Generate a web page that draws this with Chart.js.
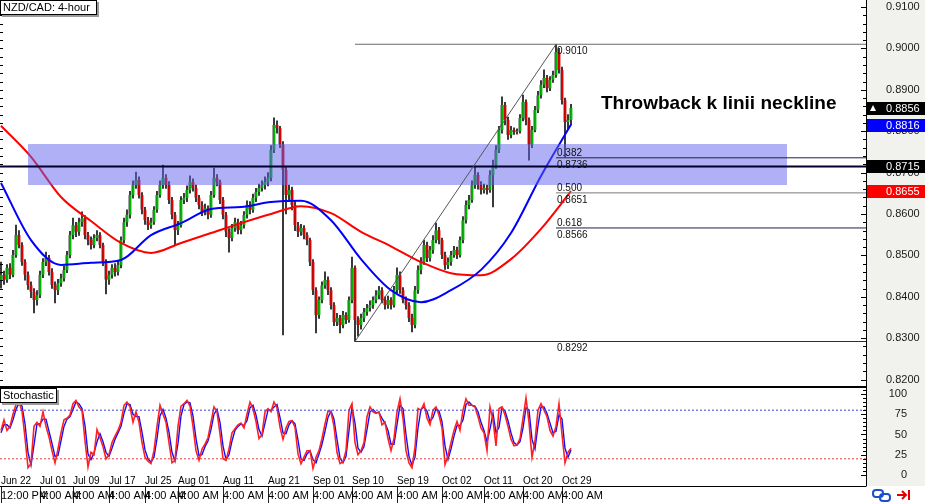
<!DOCTYPE html>
<html>
<head>
<meta charset="utf-8">
<script src="https://cdn.jsdelivr.net/npm/chart.js@4.4.0/dist/chart.umd.min.js"></script>
<style>
  html, body { margin: 0; padding: 0; background: #fff; }
  #wrap { position: relative; width: 925px; height: 503px; overflow: hidden; }
  #main { position: absolute; left: 0; top: 0; }
  #stoch { position: absolute; left: 0; top: 387px; }
</style>
</head>
<body>
<div id="wrap">
  <canvas id="main" width="925" height="387"></canvas>
  <canvas id="stoch" width="925" height="116"></canvas>
</div>
<script>
// NZD/CAD 4-hour bars (open = previous close)
const firstOpen = 0.8440;
const closes = [
  0.8453, 0.8441, 0.8470, 0.8453, 0.8501, 0.8549, 0.8525, 0.8484, 0.8453, 0.8428,
  0.8412, 0.8392, 0.8404, 0.8453, 0.8484, 0.8494, 0.8460, 0.8428, 0.8416, 0.8433,
  0.8445, 0.8465, 0.8501, 0.8549, 0.8573, 0.8557, 0.8580, 0.8590, 0.8549, 0.8537,
  0.8525, 0.8542, 0.8549, 0.8525, 0.8484, 0.8441, 0.8453, 0.8470, 0.8460, 0.8477,
  0.8537, 0.8580, 0.8598, 0.8646, 0.8670, 0.8682, 0.8646, 0.8610, 0.8585, 0.8573,
  0.8580, 0.8610, 0.8646, 0.8670, 0.8687, 0.8670, 0.8634, 0.8598, 0.8561, 0.8573,
  0.8634, 0.8639, 0.8658, 0.8677, 0.8663, 0.8639, 0.8622, 0.8605, 0.8614, 0.8598,
  0.8646, 0.8687, 0.8677, 0.8634, 0.8598, 0.8557, 0.8542, 0.8566, 0.8580, 0.8561,
  0.8573, 0.8598, 0.8622, 0.8610, 0.8639, 0.8653, 0.8663, 0.8670, 0.8677, 0.8687,
  0.8755, 0.8815, 0.8808, 0.8767, 0.8706, 0.8646, 0.8658, 0.8622, 0.8573, 0.8557,
  0.8566, 0.8549, 0.8537, 0.8484, 0.8416, 0.8356, 0.8392, 0.8428, 0.8441, 0.8416,
  0.8380, 0.8339, 0.8349, 0.8332, 0.8356, 0.8344, 0.8392, 0.8470, 0.8344, 0.8332,
  0.8349, 0.8363, 0.8373, 0.8380, 0.8392, 0.8404, 0.8416, 0.8392, 0.8380, 0.8392,
  0.8380, 0.8416, 0.8453, 0.8416, 0.8392, 0.8380, 0.8349, 0.8332, 0.8416, 0.8465,
  0.8484, 0.8525, 0.8494, 0.8513, 0.8537, 0.8561, 0.8537, 0.8501, 0.8477, 0.8484,
  0.8501, 0.8513, 0.8501, 0.8537, 0.8585, 0.8622, 0.8634, 0.8670, 0.8694, 0.8670,
  0.8658, 0.8663, 0.8658, 0.8694, 0.8718, 0.8755, 0.8803, 0.8863, 0.8827, 0.8791,
  0.8803, 0.8798, 0.8800, 0.8832, 0.8871, 0.8827, 0.8767, 0.8803, 0.8851, 0.8887,
  0.8912, 0.8929, 0.8904, 0.8924, 0.8936, 0.8991, 0.8948, 0.8875, 0.8822, 0.8827, 0.8856
];
const highs = [
  0.8484, 0.8462, 0.8478, 0.8480, 0.8512, 0.8573, 0.8560, 0.8531, 0.8490, 0.8460,
  0.8436, 0.8420, 0.8415, 0.8462, 0.8492, 0.8508, 0.8500, 0.8468, 0.8436, 0.8442,
  0.8455, 0.8474, 0.8510, 0.8558, 0.8590, 0.8580, 0.8590, 0.8605, 0.8596, 0.8556,
  0.8545, 0.8550, 0.8560, 0.8555, 0.8530, 0.8490, 0.8462, 0.8478, 0.8480, 0.8486,
  0.8545, 0.8590, 0.8610, 0.8655, 0.8680, 0.8701, 0.8690, 0.8652, 0.8616, 0.8592,
  0.8590, 0.8618, 0.8655, 0.8680, 0.8718, 0.8695, 0.8678, 0.8640, 0.8604, 0.8582,
  0.8642, 0.8650, 0.8668, 0.8692, 0.8685, 0.8670, 0.8645, 0.8630, 0.8624, 0.8620,
  0.8655, 0.8711, 0.8695, 0.8682, 0.8640, 0.8604, 0.8565, 0.8575, 0.8590, 0.8588,
  0.8582, 0.8606, 0.8632, 0.8630, 0.8648, 0.8662, 0.8672, 0.8680, 0.8690, 0.8700,
  0.8765, 0.8832, 0.8825, 0.8812, 0.8775, 0.8715, 0.8670, 0.8665, 0.8630, 0.8580,
  0.8575, 0.8572, 0.8555, 0.8542, 0.8490, 0.8422, 0.8400, 0.8436, 0.8460, 0.8448,
  0.8422, 0.8386, 0.8360, 0.8355, 0.8365, 0.8362, 0.8400, 0.8496, 0.8475, 0.8352,
  0.8358, 0.8372, 0.8382, 0.8390, 0.8400, 0.8415, 0.8425, 0.8422, 0.8400, 0.8402,
  0.8398, 0.8425, 0.8470, 0.8460, 0.8422, 0.8400, 0.8386, 0.8358, 0.8425, 0.8475,
  0.8495, 0.8537, 0.8532, 0.8522, 0.8548, 0.8578, 0.8568, 0.8542, 0.8508, 0.8494,
  0.8510, 0.8522, 0.8520, 0.8545, 0.8594, 0.8632, 0.8645, 0.8680, 0.8714, 0.8700,
  0.8678, 0.8672, 0.8670, 0.8705, 0.8730, 0.8765, 0.8812, 0.8883, 0.8870, 0.8834,
  0.8812, 0.8808, 0.8806, 0.8840, 0.8887, 0.8876, 0.8832, 0.8812, 0.8860, 0.8896,
  0.8922, 0.8948, 0.8935, 0.8932, 0.8945, 0.9010, 0.9000, 0.8955, 0.8880, 0.8840, 0.8865
];
const lows = [
  0.8421, 0.8430, 0.8435, 0.8444, 0.8448, 0.8495, 0.8518, 0.8476, 0.8440, 0.8418,
  0.8398, 0.8361, 0.8380, 0.8398, 0.8446, 0.8475, 0.8452, 0.8420, 0.8385, 0.8405,
  0.8425, 0.8438, 0.8458, 0.8494, 0.8540, 0.8545, 0.8548, 0.8570, 0.8540, 0.8525,
  0.8515, 0.8518, 0.8535, 0.8518, 0.8475, 0.8407, 0.8430, 0.8445, 0.8450, 0.8452,
  0.8470, 0.8530, 0.8570, 0.8590, 0.8638, 0.8662, 0.8638, 0.8600, 0.8575, 0.8562,
  0.8565, 0.8575, 0.8604, 0.8640, 0.8662, 0.8662, 0.8625, 0.8588, 0.8525, 0.8550,
  0.8568, 0.8625, 0.8630, 0.8650, 0.8655, 0.8630, 0.8612, 0.8596, 0.8598, 0.8588,
  0.8592, 0.8640, 0.8668, 0.8625, 0.8588, 0.8545, 0.8508, 0.8535, 0.8558, 0.8552,
  0.8552, 0.8566, 0.8590, 0.8600, 0.8604, 0.8630, 0.8645, 0.8655, 0.8660, 0.8668,
  0.8680, 0.8748, 0.8795, 0.8760, 0.8308, 0.8600, 0.8630, 0.8610, 0.8560, 0.8545,
  0.8548, 0.8540, 0.8525, 0.8475, 0.8405, 0.8313, 0.8348, 0.8385, 0.8420, 0.8405,
  0.8370, 0.8330, 0.8330, 0.8313, 0.8325, 0.8335, 0.8338, 0.8385, 0.8292, 0.8305,
  0.8322, 0.8340, 0.8355, 0.8365, 0.8372, 0.8385, 0.8395, 0.8385, 0.8370, 0.8372,
  0.8370, 0.8375, 0.8410, 0.8408, 0.8385, 0.8370, 0.8340, 0.8315, 0.8325, 0.8408,
  0.8455, 0.8478, 0.8485, 0.8486, 0.8505, 0.8530, 0.8528, 0.8492, 0.8466, 0.8468,
  0.8476, 0.8495, 0.8492, 0.8496, 0.8530, 0.8578, 0.8612, 0.8628, 0.8662, 0.8660,
  0.8648, 0.8650, 0.8648, 0.8652, 0.8617, 0.8710, 0.8748, 0.8795, 0.8815, 0.8780,
  0.8784, 0.8792, 0.8793, 0.8795, 0.8825, 0.8815, 0.8730, 0.8760, 0.8798, 0.8845,
  0.8880, 0.8905, 0.8895, 0.8898, 0.8918, 0.8930, 0.8940, 0.8865, 0.8738, 0.8805, 0.8815
];

// moving averages, one reading every maStep bars
const maStep = 10;
const redMA = [0.8813, 0.8738, 0.8641, 0.8583, 0.8530, 0.8506, 0.8530, 0.8554, 0.8578, 0.8600,
               0.8619, 0.8602, 0.8557, 0.8522, 0.8484, 0.8457, 0.8452, 0.8491, 0.8564, 0.8655];
const blueMA = [0.8675, 0.8537, 0.8477, 0.8482, 0.8489, 0.8549, 0.8578, 0.8612, 0.8617, 0.8629,
                0.8632, 0.8585, 0.8491, 0.8416, 0.8387, 0.8416, 0.8465, 0.8554, 0.8692, 0.8816];

// stochastic %K (red) and %D (blue)
const stochK = [
  55, 68, 55, 60, 75, 87, 90, 79, 46, 9, 14, 60, 65, 60, 78, 60, 47, 30, 15, 32,
  52, 68, 70, 74, 88, 92, 84, 80, 42, 10, 28, 25, 56, 46, 35, 20, 25, 40, 48, 55,
  65, 86, 90, 84, 65, 78, 65, 40, 22, 17, 14, 30, 60, 86, 75, 65, 40, 15, 18, 60,
  85, 88, 92, 85, 60, 30, 18, 32, 38, 46, 65, 84, 78, 51, 20, 18, 32, 52, 57, 62,
  64, 58, 75, 90, 82, 66, 45, 50, 78, 82, 78, 90, 83, 59, 44, 58, 66, 67, 59, 26,
  14, 22, 30, 30, 8, 22, 30, 45, 63, 79, 78, 60, 28, 14, 16, 30, 80, 88, 40, 25,
  30, 40, 72, 84, 78, 76, 78, 62, 65, 45, 30, 45, 78, 94, 70, 30, 15, 9, 34, 82,
  80, 88, 70, 62, 80, 84, 74, 58, 13, 24, 40, 55, 66, 55, 80, 94, 86, 86, 84, 72,
  58, 52, 30, 84, 68, 36, 82, 84, 74, 60, 44, 36, 37, 45, 70, 95, 65, 22, 42, 80,
  88, 80, 72, 55, 48, 60, 88, 50, 15, 28, 33
];
const stochD = [
  52, 62, 62, 58, 68, 81, 89, 85, 63, 28, 12, 37, 63, 63, 69, 69, 54, 39, 23, 24,
  42, 60, 69, 72, 81, 90, 88, 82, 61, 26, 19, 27, 41, 51, 41, 28, 23, 33, 44, 52,
  60, 76, 88, 87, 75, 72, 72, 53, 31, 20, 16, 22, 45, 73, 81, 70, 53, 28, 17, 39,
  73, 87, 90, 89, 73, 45, 24, 25, 35, 42, 56, 75, 81, 65, 36, 19, 25, 42, 55, 60,
  63, 61, 67, 83, 86, 74, 56, 48, 64, 80, 80, 84, 87, 71, 52, 51, 62, 67, 63, 43,
  20, 18, 26, 30, 19, 15, 26, 38, 54, 71, 79, 69, 44, 21, 15, 23, 55, 84, 64, 33,
  28, 35, 56, 78, 81, 77, 77, 70, 64, 55, 38, 38, 62, 86, 82, 50, 23, 12, 22, 58,
  81, 84, 79, 66, 71, 82, 79, 66, 36, 19, 32, 48, 61, 61, 68, 87, 90, 86, 85, 78,
  65, 55, 41, 57, 76, 52, 59, 83, 79, 67, 52, 40, 37, 41, 58, 83, 80, 44, 32, 61,
  84, 84, 76, 64, 52, 54, 74, 69, 33, 22, 31
];
const stochLevels = [80, 20];

// time axis: bar index where each label starts
const dateIdx = [0, 13, 24, 36, 48, 59, 74, 89, 104, 117, 132, 147, 161, 174, 187];
const dateLabels = ['Jun 22', 'Jul 01', 'Jul 09', 'Jul 17', 'Jul 25', 'Aug 01', 'Aug 11', 'Aug 21',
                    'Sep 01', 'Sep 10', 'Sep 19', 'Oct 02', 'Oct 11', 'Oct 20', 'Oct 29'];
const timeLabels = ['12:00 PM', '4:00 AM', '4:00 AM', '4:00 AM', '4:00 AM', '4:00 AM', '4:00 AM', '4:00 AM',
                    '4:00 AM', '4:00 AM', '4:00 AM', '4:00 AM', '4:00 AM', '4:00 AM', '4:00 AM'];

// drawings
const neckline = 0.8715;
const zonePrices = [0.8769, 0.8670];
const zoneIdx = [9, 262];
const fibIdx = [118, 185];
const fibPrices = [0.8292, 0.9010];
const fibRatios = [0.382, 0.5, 0.618];
const noteText = 'Throwback k linii neckline';
const noteAt = [200, 0.8866];
const tagValues = [0.8856, 0.8816, 0.8715, 0.8655];
const tagColors = ['#000000', '#0000ff', '#000000', '#ff0000'];

const barRange = [-1 / 3, 865 / 3];
const priceRange = [0.81821, 0.91169];
const stochRange = [0, 108.6];

const FONT = "'Liberation Sans', Arial, sans-serif";
const opens = closes.map((c, i) => (i === 0 ? firstOpen : closes[i - 1]));
const fibHigh = fibPrices[1], fibLow = fibPrices[0];
const fibLevels = fibRatios.map(r => fibHigh - r * (fibHigh - fibLow));

function hline(label, price, fromIdx, color, width) {
    return {
        type: 'line', label: label, order: 4,
        data: [{ x: fromIdx, y: price }, { x: barRange[1], y: price }],
        borderColor: color, borderWidth: width, pointRadius: 0, fill: false,
    };
}

function titleBox(ctx, text, top, w) {
    ctx.save();
    ctx.fillStyle = '#9a9a9a';
    ctx.fillRect(2, top + 2, w, 15);
    ctx.fillStyle = '#fff';
    ctx.fillRect(0, top, w, 15);
    ctx.strokeStyle = '#000';
    ctx.lineWidth = 1;
    ctx.strokeRect(0.5, top + 0.5, w - 1, 14);
    ctx.fillStyle = '#000';
    ctx.font = '11px ' + FONT;
    ctx.textBaseline = 'middle';
    ctx.fillText(text, 3, top + 8);
    ctx.restore();
}

function edgeTicks(ctx, scale, area, both) {
    ctx.save();
    ctx.strokeStyle = '#000';
    ctx.lineWidth = 1;
    ctx.beginPath();
    scale.ticks.forEach(t => {
        const py = Math.round(scale.getPixelForValue(t.value)) + 0.5;
        const len = t.label ? 5 : 3;
        ctx.moveTo(area.right - len, py);
        ctx.lineTo(area.right, py);
        if (both) {
            ctx.moveTo(area.left, py);
            ctx.lineTo(area.left + 3, py);
        }
    });
    ctx.stroke();
    ctx.restore();
}

// right axis: fixed width, no vertical padding taken from the chart area
function fitAxis(width) {
    return s => {
        s.width = width;
        s.paddingTop = 0;
        s.paddingBottom = 0;
    };
}

const mainPlugin = {
    id: 'mainPlugin',
    beforeDraw(chart) {
        const { ctx, chartArea: a } = chart;
        ctx.save();
        ctx.fillStyle = '#f1f1ed';
        ctx.fillRect(a.right, 0, chart.width - a.right, chart.height);
        ctx.restore();
    },
    beforeDatasetDraw(chart, args) {
        if (chart.data.datasets[args.index].label !== 'neckline') return;
        const { ctx, scales: { x, y } } = chart;
        const x0 = x.getPixelForValue(zoneIdx[0]), x1 = x.getPixelForValue(zoneIdx[1]);
        const y0 = y.getPixelForValue(zonePrices[0]), y1 = y.getPixelForValue(zonePrices[1]);
        ctx.save();
        ctx.fillStyle = 'rgba(98, 98, 238, 0.5)';
        ctx.fillRect(x0, y0, x1 - x0, y1 - y0);
        ctx.restore();
    },
    afterDatasetsDraw(chart) {
        const { ctx, scales: { x, y } } = chart;
        ctx.save();
        ctx.fillStyle = '#111';
        ctx.font = '10px ' + FONT;
        const lx = x.getPixelForValue(fibIdx[1]) + 1;
        fibLevels.forEach((lv, k) => {
            const py = y.getPixelForValue(lv);
            ctx.textBaseline = 'bottom';
            ctx.fillText(fibRatios[k].toFixed(3), lx, py);
            ctx.textBaseline = 'top';
            ctx.fillText(lv.toFixed(4), lx, py + 2);
        });
        ctx.textBaseline = 'top';
        fibPrices.forEach(p => ctx.fillText(p.toFixed(4), lx, y.getPixelForValue(p) + 2));

        ctx.fillStyle = '#000';
        ctx.font = 'bold 19px ' + FONT;
        ctx.textBaseline = 'middle';
        ctx.fillText(noteText, x.getPixelForValue(noteAt[0]), y.getPixelForValue(noteAt[1]));
        ctx.restore();
    },
    afterDraw(chart) {
        const { ctx, chartArea: a, scales: { y } } = chart;
        edgeTicks(ctx, y, a, true);
        ctx.save();
        ctx.strokeStyle = '#000';
        ctx.beginPath();
        ctx.moveTo(a.right + 0.5, 0);
        ctx.lineTo(a.right + 0.5, a.bottom);
        ctx.moveTo(0, a.bottom - 0.5);
        ctx.lineTo(a.right, a.bottom - 0.5);
        ctx.stroke();

        // price tags on the axis
        ctx.font = '11px ' + FONT;
        ctx.textBaseline = 'middle';
        tagValues.forEach((v, k) => {
            const py = Math.round(y.getPixelForValue(v));
            ctx.fillStyle = tagColors[k];
            ctx.fillRect(a.right + 1, py - 6, chart.width - a.right, 13);
            ctx.fillStyle = '#fff';
            ctx.fillText(v.toFixed(4), a.right + 20, py + 1);
            if (k === 0) {
                ctx.beginPath();
                ctx.moveTo(a.right + 4, py + 3);
                ctx.lineTo(a.right + 7, py - 3);
                ctx.lineTo(a.right + 10, py + 3);
                ctx.closePath();
                ctx.fill();
            }
        });
        ctx.restore();
        titleBox(ctx, 'NZD/CAD: 4-hour', 0, 97);
    }
};

new Chart(document.getElementById('main'), {
    type: 'bar',
    data: {
        datasets: [
            {
                label: 'wick', order: 10, grouped: false, barThickness: 1,
                data: highs.map((h, i) => ({ x: i, y: [lows[i], h] })),
                backgroundColor: '#111111', borderWidth: 0,
            },
            {
                label: 'body', order: 9, grouped: false, barThickness: 3, minBarLength: 1,
                data: closes.map((c, i) => ({ x: i, y: [opens[i], c] })),
                backgroundColor: ctx => (closes[ctx.dataIndex] >= opens[ctx.dataIndex] ? '#00b800' : '#e00000'),
                borderColor: 'rgba(20, 20, 20, 0.55)', borderWidth: { left: 1, right: 0, top: 0, bottom: 0 },
                borderSkipped: false,
            },
            {
                type: 'line', label: 'ma slow', order: 8,
                data: redMA.map((v, k) => ({ x: k * maStep, y: v })),
                borderColor: '#ff0000', borderWidth: 2, pointRadius: 0, fill: false,
                cubicInterpolationMode: 'monotone',
            },
            {
                type: 'line', label: 'ma fast', order: 7,
                data: blueMA.map((v, k) => ({ x: k * maStep, y: v })),
                borderColor: '#0000ff', borderWidth: 2, pointRadius: 0, fill: false,
                cubicInterpolationMode: 'monotone',
            },
            {
                type: 'line', label: 'neckline', order: 5,
                data: [{ x: barRange[0], y: neckline }, { x: barRange[1], y: neckline }],
                borderColor: '#00002a', borderWidth: 2, pointRadius: 0, fill: false,
            },
            hline('fib 0', fibHigh, fibIdx[0], '#6a6a6a', 1),
            hline('fib 100', fibLow, fibIdx[0], '#303030', 1),
            ...fibLevels.map((lv, k) => hline('fib ' + fibRatios[k], lv, fibIdx[1], k === 1 ? '#7a7a7a' : '#202040', 1)),
            {
                type: 'line', label: 'fib trend', order: 4,
                data: [{ x: fibIdx[0], y: fibLow }, { x: fibIdx[1], y: fibHigh }],
                borderColor: '#555555', borderWidth: 1, pointRadius: 0, fill: false,
            },
        ],
    },
    options: {
        responsive: false,
        animation: false,
        devicePixelRatio: 1,
        layout: { padding: 0, autoPadding: false },
        plugins: { legend: { display: false }, tooltip: { enabled: false } },
        scales: {
            x: { type: 'linear', min: barRange[0], max: barRange[1], offset: false, display: false },
            y: {
                position: 'right', min: priceRange[0], max: priceRange[1],
                grid: { display: false, drawTicks: false },
                border: { display: false },
                afterFit: fitAxis(59),
                ticks: {
                    stepSize: 0.002, includeBounds: false, autoSkip: false, padding: 20,
                    color: '#1a1a1a', font: { family: FONT, size: 11 },
                    callback: v => (Math.round(v * 1000) % 10 === 0 ? v.toFixed(4) : ''),
                },
            },
        },
    },
    plugins: [mainPlugin],
});

const stochPlugin = {
    id: 'stochPlugin',
    beforeDraw(chart) {
        const { ctx, chartArea: a } = chart;
        ctx.save();
        ctx.fillStyle = '#f1f1ed';
        ctx.fillRect(a.right, 0, chart.width - a.right, a.bottom + 11);
        ctx.restore();
    },
    afterDraw(chart) {
        const { ctx, chartArea: a, scales: { y } } = chart;
        edgeTicks(ctx, y, a, false);
        const bottom = a.bottom + 11.5;
        ctx.save();
        ctx.strokeStyle = '#000';
        ctx.lineWidth = 1;
        ctx.beginPath();
        ctx.moveTo(0, 0.5);
        ctx.lineTo(a.right, 0.5);
        ctx.moveTo(a.right + 0.5, 0);
        ctx.lineTo(a.right + 0.5, bottom);
        ctx.moveTo(0, bottom);
        ctx.lineTo(a.right, bottom);
        ctx.stroke();

        // link / scroll icons
        ctx.strokeStyle = '#1c4fd0';
        ctx.lineWidth = 2;
        ctx.beginPath();
        ctx.roundRect(873, 103, 10, 7, 3);
        ctx.roundRect(880, 107, 10, 7, 3);
        ctx.stroke();
        ctx.strokeStyle = '#e00000';
        ctx.beginPath();
        ctx.moveTo(897, 108); ctx.lineTo(906, 108);
        ctx.moveTo(902, 104); ctx.lineTo(906, 108); ctx.lineTo(902, 112);
        ctx.moveTo(909, 103); ctx.lineTo(909, 113);
        ctx.stroke();
        ctx.restore();
        titleBox(ctx, 'Stochastic', 1, 57);
    }
};

const levelColors = ['#4040e0', '#e04040'];

new Chart(document.getElementById('stoch'), {
    type: 'line',
    data: {
        datasets: [
            ...stochLevels.map((lv, k) => ({
                label: 'level ' + lv,
                data: [{ x: barRange[0], y: lv }, { x: barRange[1], y: lv }],
                borderColor: levelColors[k], borderWidth: 1, borderDash: [2, 2],
                pointRadius: 0, fill: false,
            })),
            {
                label: '%K', data: stochK.map((v, i) => ({ x: i, y: v })),
                borderColor: '#ff2020', borderWidth: 1.6, pointRadius: 0, fill: false,
            },
            {
                label: '%D', data: stochD.map((v, i) => ({ x: i, y: v })),
                borderColor: '#1010ff', borderWidth: 1.4, pointRadius: 0, fill: false,
            },
        ],
    },
    options: {
        responsive: false,
        animation: false,
        devicePixelRatio: 1,
        layout: { padding: { right: 18 }, autoPadding: false },
        plugins: { legend: { display: false }, tooltip: { enabled: false } },
        scales: {
            x: {
                type: 'linear', min: barRange[0], max: barRange[1], offset: false, weight: 0,
                grid: { display: false, drawTicks: false },
                border: { display: false },
                afterFit(s) { s.height = 12; },
                afterBuildTicks(s) { s.ticks = dateIdx.map(v => ({ value: v })); },
                ticks: {
                    autoSkip: false, maxRotation: 0, minRotation: 0, align: 'start', padding: 0,
                    color: '#000', font: { family: FONT, size: 10 },
                    callback: (v, i) => dateLabels[i],
                },
            },
            x2: {
                type: 'linear', axis: 'x', position: 'bottom', min: barRange[0], max: barRange[1],
                offset: false, weight: 1,
                grid: { display: true, drawOnChartArea: false, drawTicks: true, tickLength: 16, color: '#202020' },
                border: { display: false },
                afterFit(s) { s.height = 16; },
                afterBuildTicks(s) { s.ticks = dateIdx.map(v => ({ value: v })); },
                ticks: {
                    autoSkip: false, maxRotation: 0, minRotation: 0, align: 'start', padding: -14,
                    color: '#000', font: { family: FONT, size: 11 },
                    callback: (v, i) => timeLabels[i],
                },
            },
            y: {
                position: 'right', min: stochRange[0], max: stochRange[1],
                grid: { display: false, drawTicks: false },
                border: { display: false },
                afterFit: fitAxis(41),
                ticks: {
                    stepSize: 5, includeBounds: false, autoSkip: false, padding: 0, crossAlign: 'far',
                    color: '#1a1a1a', font: { family: FONT, size: 11 },
                    callback: v => (v % 25 === 0 ? String(v) : ''),
                },
            },
        },
    },
    plugins: [stochPlugin],
});
</script>
</body>
</html>
